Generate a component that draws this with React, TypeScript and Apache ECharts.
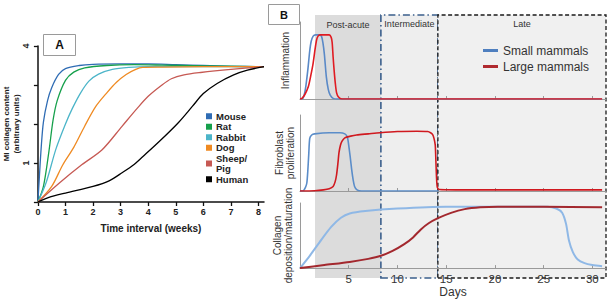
import { useEffect, useRef } from 'react';
import * as echarts from 'echarts';

const FONT = '"Liberation Sans", Arial, Helvetica, sans-serif';

// Panel A: collagen content after myocardial infarction, per species
const weekTicks = [0, 1, 2, 3, 4, 5, 6, 7, 8];
const contentTicks = [0, 1, 2, 3, 4];
const contentLabels = [1, 4];
const speciesNames = ['Mouse', 'Rat', 'Rabbit', 'Dog', 'Sheep/Pig', 'Human'];

const mouse = [[0, 0], [0.05, 0.6], [0.12, 1.4], [0.2, 2.05], [0.35, 2.6], [0.5, 2.93], [0.75, 3.27], [1, 3.42], [1.5, 3.5], [2, 3.53], [3, 3.54], [4, 3.54], [5, 3.52], [6, 3.5], [7, 3.48], [8.2, 3.47]];
const rat = [[0, 0], [0.2, 0.4], [0.4, 1.3], [0.55, 2.1], [0.7, 2.6], [1, 3.12], [1.3, 3.33], [1.7, 3.44], [2.5, 3.5], [3.5, 3.52], [4.5, 3.51], [6, 3.49], [8.2, 3.47]];
const rabbit = [[0, 0], [0.3, 0.5], [0.65, 1.35], [1, 2.0], [1.25, 2.4], [1.55, 2.8], [1.85, 3.1], [2.2, 3.28], [2.7, 3.4], [3.3, 3.45], [4, 3.47], [5, 3.47], [8.2, 3.47]];
const dog = [[0, 0], [0.5, 0.4], [0.9, 0.95], [1.3, 1.4], [1.7, 1.95], [2.1, 2.45], [2.5, 2.8], [2.85, 3.07], [3.2, 3.27], [3.55, 3.4], [3.8, 3.45], [4.5, 3.46], [6, 3.47], [8.2, 3.47]];
const sheepPig = [[0, 0], [0.8, 0.5], [1.6, 0.96], [2.33, 1.34], [3.05, 1.94], [3.6, 2.4], [4.0, 2.71], [4.5, 3.0], [4.84, 3.16], [5.3, 3.26], [5.9, 3.32], [7, 3.4], [8.2, 3.47]];
const human = [[0, 0], [0.4, 0.12], [1, 0.23], [2, 0.4], [2.6, 0.55], [3.05, 0.75], [3.5, 0.97], [3.8, 1.16], [4.4, 1.55], [5.1, 2.04], [5.6, 2.45], [6, 2.78], [6.5, 3.04], [7.1, 3.26], [7.6, 3.38], [8.2, 3.47]];
const speciesData = [mouse, rat, rabbit, dog, sheepPig, human];
const speciesColors = ['#2f6cb4', '#16a04c', '#4cb5c9', '#ef8a22', '#c65953', '#000000'];

// Panel B: healing phases (days) for small vs large mammals
const dayTicks = [0, 5, 10, 15, 20, 25, 30];
const dayLabels = [5, 10, 15, 20, 25, 30];
const phaseNames = ['Post-acute', 'Intermediate', 'Late'];
const phaseBounds = [1.54, 8.3, 14.15, 31.4];
const groupNames = ['Small mammals', 'Large mammals'];

const inflammationSmall = [[0, 0], [0.3, 0.01], [0.55, 0.15], [0.8, 0.45], [1.0, 0.75], [1.15, 0.9], [1.35, 0.98], [1.6, 1.0], [2.0, 1.0], [2.2, 0.98], [2.35, 0.88], [2.5, 0.7], [2.7, 0.35], [2.9, 0.15], [3.1, 0.06], [3.4, 0.01], [3.8, 0], [31, 0]];
const inflammationLarge = [[0, 0], [0.2, 0.01], [0.5, 0.07], [0.85, 0.19], [1.1, 0.36], [1.35, 0.56], [1.55, 0.78], [1.7, 0.92], [1.85, 0.98], [2.05, 1.0], [3.0, 1.0], [3.2, 0.96], [3.3, 0.88], [3.4, 0.65], [3.5, 0.45], [3.62, 0.25], [3.75, 0.1], [3.95, 0.03], [4.3, 0], [31, 0]];
const fibroblastSmall = [[0, 0], [0.3, 0], [0.55, 0.06], [0.7, 0.14], [0.8, 0.35], [0.9, 0.65], [1.0, 0.92], [1.2, 0.98], [1.5, 1.0], [3, 1.02], [4.1, 1.02], [4.6, 1.0], [4.85, 0.95], [5.0, 0.8], [5.15, 0.6], [5.3, 0.38], [5.45, 0.2], [5.6, 0.08], [5.85, 0.02], [6.3, 0], [14.2, 0]];
const fibroblastLarge = [[0, 0], [1.5, 0.005], [2.4, 0.02], [3.0, 0.04], [3.4, 0.08], [3.6, 0.16], [3.75, 0.28], [3.9, 0.5], [4.0, 0.67], [4.15, 0.8], [4.3, 0.87], [4.6, 0.93], [5.2, 0.96], [5.8, 0.98], [7, 1.0], [8.2, 1.02], [10, 1.04], [12, 1.045], [13.1, 1.04], [13.4, 1.02], [13.6, 0.99], [13.75, 0.92], [13.88, 0.8], [13.95, 0.5], [14.02, 0.2], [14.1, 0.06], [14.3, 0.025], [16, 0.02], [31, 0.02]];
const collagenSmall = [[0, 0], [1, 0.2], [2, 0.42], [3.2, 0.67], [4.2, 0.82], [5.1, 0.89], [6.7, 0.93], [10, 0.97], [15, 1.0], [20, 1.0], [25.4, 1.0], [26.3, 0.97], [26.9, 0.9], [27.3, 0.72], [27.6, 0.45], [28, 0.26], [28.5, 0.14], [29.2, 0.08], [30, 0.05], [31, 0.03]];
const collagenLarge = [[0, 0], [2.5, 0.05], [5.1, 0.1], [7, 0.15], [8.3, 0.2], [9.5, 0.28], [10.7, 0.39], [11.6, 0.5], [12.4, 0.63], [13.2, 0.73], [14.1, 0.81], [15.5, 0.9], [16.9, 0.96], [18.5, 0.99], [20.3, 1.0], [25, 1.0], [31, 0.99]];

export default function App() {
  const ref = useRef<HTMLDivElement>(null);

  useEffect(() => {
    if (!ref.current) return;
    const chart = echarts.init(ref.current, null, { renderer: 'svg' });

    const bAxisLine = { show: true, lineStyle: { color: '#9a9a9a', width: 1 } };
    const bX = (gridIndex: number, extra: any = {}) => ({
      type: 'value', gridIndex, min: 0, max: phaseBounds[3], z: 3,
      axisLine: bAxisLine,
      axisTick: { show: true, inside: true, length: 3, customValues: dayTicks, lineStyle: { color: '#9a9a9a' } },
      axisLabel: { show: false },
      splitLine: { show: false },
      ...extra,
    });
    const bY = (gridIndex: number, max: number, name: string, nameGap: number) => ({
      type: 'value', gridIndex, min: 0, max, z: 3,
      axisLine: bAxisLine,
      axisTick: { show: false },
      axisLabel: { show: false },
      splitLine: { show: false },
      name, nameLocation: 'middle', nameRotate: 90, nameGap,
      nameTextStyle: { fontSize: 10, color: '#333', lineHeight: 11, fontFamily: FONT },
    });

    const bLine = (name: string, data: number[][], color: string, xi: number, width = 1.6) => ({
      type: 'line', name, data, xAxisIndex: xi, yAxisIndex: xi,
      showSymbol: false, smooth: 0.25, z: 5,
      lineStyle: { color, width }, itemStyle: { color },
    });

    const option: any = {
      animation: false,
      backgroundColor: '#ffffff',
      textStyle: { fontFamily: FONT },
      grid: [
        { left: 35, top: 46, width: 229, height: 156 },
        { left: 300, top: 22, width: 306, height: 77 },
        { left: 300, top: 115, width: 306, height: 76 },
        { left: 300, top: 203, width: 306, height: 74 },
        { left: 300, top: 15, width: 306, height: 263 },
      ],
      xAxis: [
        {
          type: 'value', gridIndex: 0, min: 0, max: 8.2,
          axisLine: { lineStyle: { color: '#111', width: 1.5 } },
          axisTick: { customValues: weekTicks, length: 4, lineStyle: { color: '#111', width: 1.3 } },
          axisLabel: { customValues: weekTicks, fontSize: 9, fontWeight: 'bold', color: '#222', margin: 5 },
          splitLine: { show: false },
          name: 'Time interval (weeks)', nameLocation: 'middle', nameGap: 21,
          nameTextStyle: { fontSize: 10, fontWeight: 'bold', color: '#222' },
        },
        bX(1),
        bX(2),
        bX(3, {
          axisLabel: { show: true, customValues: dayLabels, fontSize: 11.5, color: '#333', margin: 5 },
          name: 'Days', nameLocation: 'middle', nameGap: 17,
          nameTextStyle: { fontSize: 12, color: '#333' },
        }),
        { type: 'value', gridIndex: 4, min: 0, max: phaseBounds[3], show: false },
      ],
      yAxis: [
        {
          type: 'value', gridIndex: 0, min: 0, max: 4,
          axisLine: { lineStyle: { color: '#111', width: 1.5 } },
          axisTick: { customValues: contentTicks, length: 4, lineStyle: { color: '#111', width: 1.3 } },
          axisLabel: { customValues: contentLabels, rotate: 90, fontSize: 9, fontWeight: 'bold', color: '#222', margin: 7 },
          splitLine: { show: false },
          name: 'MI collagen content\n(arbitrary units)', nameLocation: 'middle', nameRotate: 90, nameGap: 8,
          nameTextStyle: { fontSize: 8, fontWeight: 'bold', color: '#222', lineHeight: 10 },
        },
        bY(1, 1.2, 'Inflammation', 9),
        bY(2, 1.33, 'Fibroblast\nproliferation', 4),
        bY(3, 1.06, 'Collagen\ndeposition/maturation', 6),
        { type: 'value', gridIndex: 4, min: 0, max: 1, show: false },
      ],
      legend: [
        {
          data: speciesNames, orient: 'vertical', left: 206, top: 111, padding: 0,
          icon: 'rect', itemWidth: 6, itemHeight: 6, itemGap: 0,
          formatter: (n: string) => (n === 'Sheep/Pig' ? 'Sheep/\nPig' : n),
          textStyle: { fontSize: 9.5, fontWeight: 'bold', color: '#222', lineHeight: 10.5, padding: [0, 0, 0, -1] },
        },
        {
          data: [
            { name: groupNames[0], itemStyle: { color: '#4f7fbf' } },
            { name: groupNames[1], itemStyle: { color: '#b02a30' } },
          ],
          orient: 'vertical', left: 483, top: 44, padding: 0,
          icon: 'rect', itemWidth: 15, itemHeight: 3, itemGap: 3,
          textStyle: { fontSize: 12, color: '#333', lineHeight: 13 },
        },
      ],
      series: [
        ...speciesNames.map((name, i) => ({
          type: 'line', name, data: speciesData[i], xAxisIndex: 0, yAxisIndex: 0,
          showSymbol: false, smooth: 0.3, z: 5,
          lineStyle: { color: speciesColors[i], width: 1.3 }, itemStyle: { color: speciesColors[i] },
        })),
        {
          type: 'line', name: 'phases', data: [[0, -1]], xAxisIndex: 4, yAxisIndex: 4,
          showSymbol: false, z: 0, silent: true,
          markArea: {
            silent: true,
            label: { show: true, position: 'insideTop', distance: 5, fontSize: 9, color: '#333' },
            data: [
              [{ name: phaseNames[0], xAxis: phaseBounds[0], yAxis: 0, itemStyle: { color: '#dcdcdc' } }, { xAxis: phaseBounds[1], yAxis: 1 }],
              [{ name: phaseNames[1], xAxis: phaseBounds[1], yAxis: 0, itemStyle: { color: '#eeeeee', borderColor: '#3b5f8c', borderWidth: 1.6, borderType: [7, 3, 1.5, 3] } }, { xAxis: phaseBounds[2], yAxis: 1 }],
              [{ name: phaseNames[2], xAxis: phaseBounds[2], yAxis: 0, itemStyle: { color: '#f0f0f0', borderColor: '#1a1a1a', borderWidth: 1.3, borderType: [4, 2.5] } }, { xAxis: phaseBounds[3], yAxis: 1 }],
            ],
          },
        },
        bLine(groupNames[0], inflammationSmall, '#5a89c7', 1),
        bLine(groupNames[1], inflammationLarge, '#e01b22', 1),
        bLine(groupNames[0], fibroblastSmall, '#5b8dc9', 2),
        bLine(groupNames[1], fibroblastLarge, '#d0191f', 2),
        bLine(groupNames[0], collagenSmall, '#8fb8e6', 3, 2),
        bLine(groupNames[1], collagenLarge, '#a3282e', 3, 2),
      ],
      graphic: [
        {
          type: 'group', left: 43, top: 34,
          children: [
            { type: 'rect', shape: { x: 0, y: 0, width: 32, height: 21 }, style: { fill: '#fff', stroke: '#9a9a9a', lineWidth: 1 } },
            { type: 'text', x: 16, y: 10.5, style: { text: 'A', fontSize: 12, fontWeight: 'bold', fill: '#111', align: 'center', verticalAlign: 'middle', fontFamily: FONT } },
          ],
        },
        {
          type: 'group', left: 268, top: 4,
          children: [
            { type: 'rect', shape: { x: 0, y: 0, width: 31, height: 20 }, style: { fill: '#fff', stroke: '#9a9a9a', lineWidth: 1 } },
            { type: 'text', x: 15.5, y: 10, style: { text: 'B', fontSize: 11, fontWeight: 'bold', fill: '#111', align: 'center', verticalAlign: 'middle', fontFamily: FONT } },
          ],
        },
      ],
    };

    chart.setOption(option);
    return () => chart.dispose();
  }, []);

  return <div ref={ref} style={{ position: 'fixed', left: 0, top: 0, width: 615, height: 299 }} />;
}
